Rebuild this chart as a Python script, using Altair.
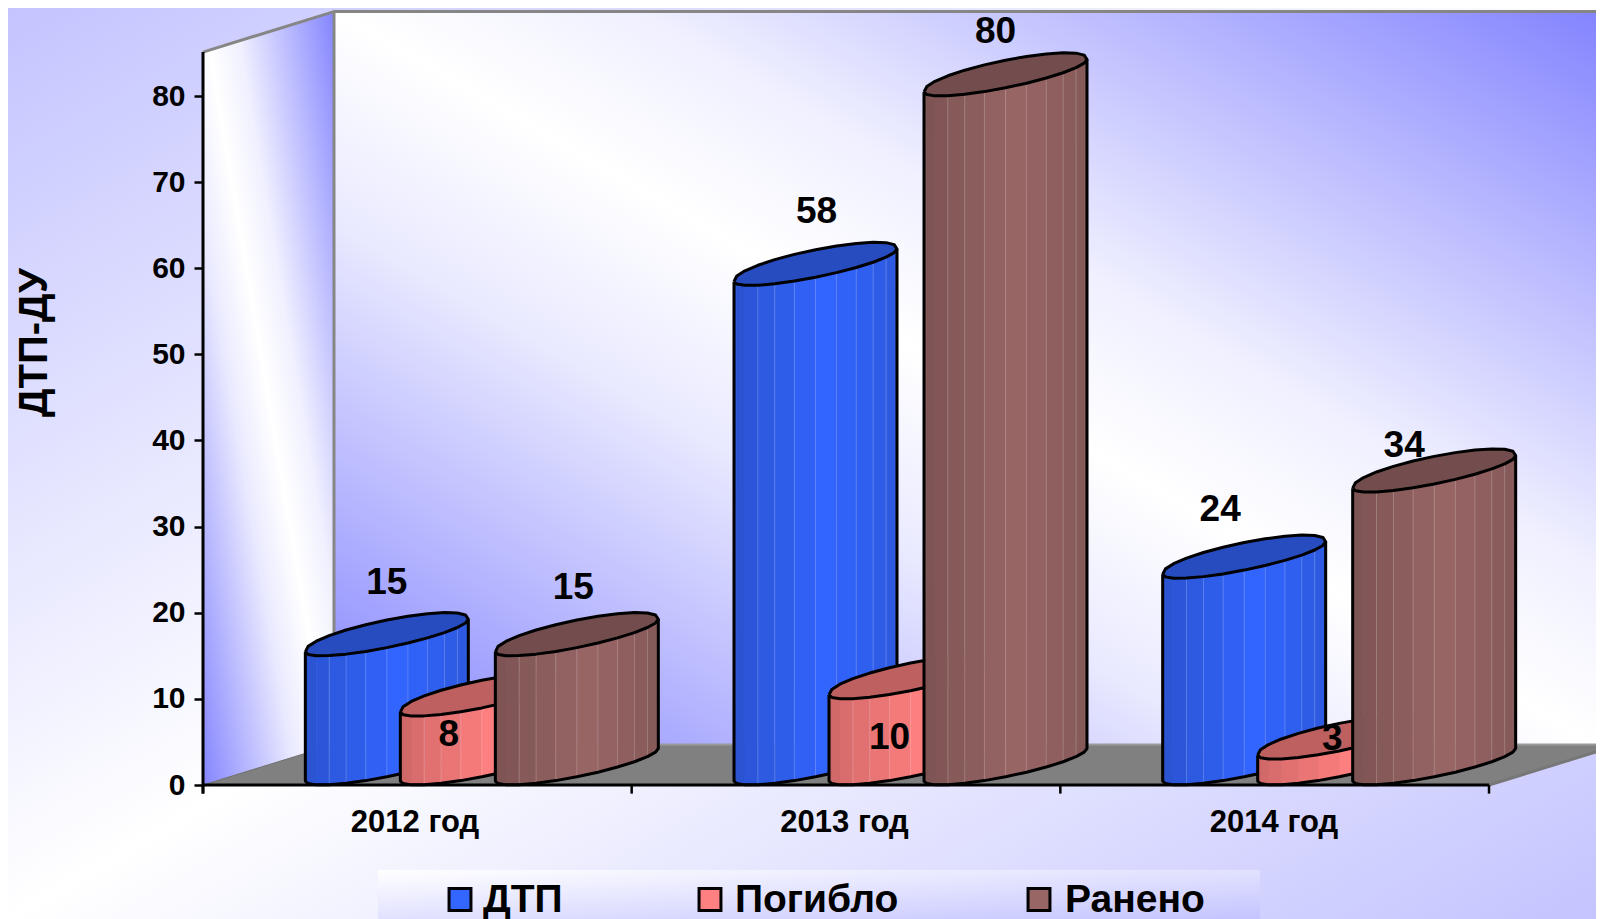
import math
import altair as alt
import pandas as pd

categories = ["2012 год", "2013 год", "2014 год"]
series_names = ["ДТП", "Погибло", "Ранено"]
dtp_values = [15, 58, 24]
killed_values = [8, 10, 3]
injured_values = [15, 80, 34]
y_ticks = [0, 10, 20, 30, 40, 50, 60, 70, 80]
series_colors = ["#3366FF", "#FF8080", "#996666"]
cap_colors = ["#264CBF", "#BF6060", "#734D4D"]

# ---- layout: pixel frame of the picture and the oblique projection ----
W, H = 1588, 911
PX_ORIGIN, PX_ZERO = 203.0, 785.0      # page position of category 0 / value 0
PX_PER_CAT, PX_PER_VAL = 428.67, 8.6125
DX, DV = 131 / PX_PER_CAT, 40.5 / PX_PER_VAL   # depth shift
AXIS_TOP = 85.1
GROUP_OFFSET = 95 / PX_PER_CAT
HALF_W = 48.5 / PX_PER_CAT
BAR_SHIFT = -1 / PX_PER_CAT
CAP_BULGE = 3.5 / PX_PER_VAL
STEPS = 12


def cx(page_x):
    return (page_x - PX_ORIGIN) / PX_PER_CAT


def vy(page_y):
    return (PX_ZERO - page_y) / PX_PER_VAL


x_scale = alt.Scale(domain=[cx(8), cx(8 + W)], nice=False, zero=False)
y_scale = alt.Scale(domain=[vy(8 + H), vy(8)], nice=False, zero=False)
y_axis = alt.Axis(
    values=y_ticks, offset=-195, orient="left", grid=False, domain=False,
    tickColor="#000000", tickWidth=2.5, tickSize=9, labelPadding=9,
    labelFont="Liberation Sans", labelFontWeight="bold", labelFontSize=30,
    labelColor="#000000", title="ДТП-ДУ", titleFont="Liberation Sans",
    titleFontWeight="bold", titleFontSize=40, titleColor="#000000",
    titleX=-169, titleY=334, titleAngle=270, titleAlign="center",
    titleBaseline="middle", zindex=1,
)
X = alt.X("x:Q", scale=x_scale, axis=None)
Y = alt.Y("y:Q", scale=y_scale, axis=y_axis, stack=None)
Y2 = alt.Y2("y2:Q")


def grad(stops, x1, y1, x2, y2):
    return alt.Gradient(
        gradient="linear",
        stops=[alt.GradientStop(color=c, offset=o) for o, c in stops],
        x1=x1, y1=y1, x2=x2, y2=y2,
    )


def band(rows, fill, **kw):
    return alt.Chart(pd.DataFrame(rows)).mark_area(
        fill=fill, orient="vertical", **kw
    ).encode(x=X, y=Y, y2=Y2)


def path(points, color, width, cap="butt"):
    df = pd.DataFrame([{"x": a, "y": b, "i": i} for i, (a, b) in enumerate(points)])
    return alt.Chart(df).mark_line(
        color=color, strokeWidth=width, strokeJoin="round", strokeCap=cap, clip=False
    ).encode(x=X, y=Y, order=alt.Order("i:Q"))


def shade(color, f):
    r, g, b = int(color[1:3], 16), int(color[3:5], 16), int(color[5:7], 16)
    return "#%02x%02x%02x" % (min(255, int(r * f)), min(255, int(g * f)), min(255, int(b * f)))


layers = []

# page background
layers.append(band(
    [{"x": cx(8), "y": vy(8), "y2": vy(8 + H)}, {"x": cx(8 + W), "y": vy(8), "y2": vy(8 + H)}],
    grad([(0, "#C4C4FF"), (0.5, "#FFFFFF"), (1, "#C4C4FF")], 0, 0, 1, 1),
))

wall_grad = grad(
    [(0, "#8484FF"), (0.36, "#EAEAFF"), (0.5, "#FFFFFF"), (0.62, "#F0F0FF"), (1, "#8484FF")],
    0, 1, 1, 0,
)
right_end = cx(8 + W)
# side wall
layers.append(band(
    [{"x": 0, "y": AXIS_TOP, "y2": 0}, {"x": DX, "y": AXIS_TOP + DV, "y2": DV}], wall_grad))
# back wall
layers.append(band(
    [{"x": DX, "y": AXIS_TOP + DV, "y2": DV}, {"x": right_end, "y": AXIS_TOP + DV, "y2": DV}], wall_grad))
# floor
slope = DV / DX
layers.append(band(
    [
        {"x": 0, "y": 0, "y2": 0},
        {"x": DX, "y": DV, "y2": 0},
        {"x": 3, "y": DV, "y2": 0},
        {"x": right_end, "y": DV, "y2": (right_end - 3) * slope},
    ],
    "#808080",
))
# wall edges
layers.append(path([(0, AXIS_TOP), (DX, AXIS_TOP + DV), (right_end, AXIS_TOP + DV)], "#868686", 3))
layers.append(path([(DX, AXIS_TOP + DV), (DX, DV)], "#868686", 3))
layers.append(path([(DX, DV), (right_end, DV)], "#9A9A9A", 2))
layers.append(path([(3, 0), (right_end, (right_end - 3) * slope)], "#777777", 3))
layers.append(path([(0, 0), (DX, DV)], "#6E6E6E", 1))

# ---- cylinders ----
R = math.hypot(HALF_W, DX / 2)
PHI = math.atan2(DX / 2, HALF_W)
series_values = [dtp_values, killed_values, injured_values]


def lower(center, s):
    """x, value offset on the near half of the base ellipse"""
    return center + R * math.cos(s), DV / 2 + DV / 2 * math.sin(PHI - s)


def upper(center, s):
    bulge = CAP_BULGE * max(0.0, math.sin(s)) ** 0.5
    return center + R * math.cos(s), DV / 2 + DV / 2 * math.sin(PHI + s) + bulge


for g in range(len(categories)):
    for k in range(len(series_names)):
        v = series_values[k][g]
        center = g + 0.5 + DX / 2 + (k - 1) * GROUP_OFFSET + BAR_SHIFT
        base = series_colors[k]
        s_list = [math.pi * (STEPS - i) / STEPS for i in range(STEPS + 1)]  # left to right

        rows = []
        for i in range(STEPS):
            x0, y0 = lower(center, s_list[i])
            x1, y1 = lower(center, s_list[i + 1])
            mid = ((x0 + x1) / 2 - (center - R)) / (2 * R)
            f = 0.80 + 0.20 * max(0.0, 1 - abs(mid - 0.58) / 0.58) ** 0.8
            fill = shade(base, f)
            rows.append({"x": x0, "y": y0 + v, "y2": y0, "id": i, "fill": fill})
            rows.append({"x": x1, "y": y1 + v, "y2": y1, "id": i, "fill": fill})
        layers.append(
            alt.Chart(pd.DataFrame(rows)).mark_area(orient="vertical", strokeWidth=0.7).encode(
                x=X, y=Y, y2=Y2, detail="id:N",
                color=alt.Color("fill:N", scale=None),
                stroke=alt.Stroke("fill:N", scale=None),
            )
        )

        # faint facet edges
        edge_rows = []
        for i in range(3, STEPS - 1):
            x0, y0 = lower(center, s_list[i])
            edge_rows.append({"x": x0, "y": y0 + v, "y2": y0})
        if v > 5:
            layers.append(
                alt.Chart(pd.DataFrame(edge_rows)).mark_rule(
                    color="#FFFFFF", opacity=0.2, strokeWidth=1
                ).encode(x=X, y=Y, y2=Y2)
            )

        # top cap
        cap_rows = []
        for s in s_list:
            xu, yu = upper(center, s)
            _, yl = lower(center, s)
            cap_rows.append({"x": xu, "y": yu + v, "y2": yl + v})
        layers.append(band(cap_rows, cap_colors[k]))

        # outlines
        near = [lower(center, s) for s in s_list]
        far = [upper(center, s) for s in s_list]
        layers.append(path(
            [(near[0][0], near[0][1] + v)] + near + [(near[-1][0], near[-1][1] + v)],
            "#000000", 3,
        ))
        layers.append(path(
            [(a, b + v) for a, b in near] + [(a, b + v) for a, b in reversed(far)],
            "#000000", 3,
        ))

# ---- axes ----
layers.append(path([(0, -1.0), (0, AXIS_TOP)], "#000000", 3))
layers.append(path([(0, 0), (3, 0)], "#000000", 3))
tick_df = pd.DataFrame({"x": list(range(len(categories) + 1))})
layers.append(
    alt.Chart(tick_df).mark_rule(color="#000000", strokeWidth=2.5).transform_calculate(
        y="0", y2="-1"
    ).encode(x=X, y=Y, y2=Y2)
)
layers.append(
    alt.Chart(pd.DataFrame({"x": [cx(415 + 429.5 * i) for i in range(3)], "y": [vy(823)] * 3, "t": categories}))
    .mark_text(font="Liberation Sans", fontWeight="bold", fontSize=31, color="#000000")
    .encode(x=X, y=Y, text="t:N")
)

# ---- value labels ----
label_dx_px = [[0, -33, -3.5], [1, -21, -10], [-24, -7, -30]]
label_dv = [[8.45, -2.2, 7.9], [8.5, -4.5, 7.4], [7.9, 2.3, 5.4]]
label_rows = []
for g in range(3):
    for k in range(3):
        v = series_values[k][g]
        label_rows.append({
            "x": g + 0.5 + DX / 2 + (k - 1) * GROUP_OFFSET + BAR_SHIFT + label_dx_px[g][k] / PX_PER_CAT,
            "y": v + label_dv[g][k],
            "t": str(v),
        })
layers.append(
    alt.Chart(pd.DataFrame(label_rows))
    .mark_text(font="Liberation Sans", fontWeight="bold", fontSize=37, color="#000000")
    .encode(x=X, y=Y, text="t:N")
)

# ---- legend ----
layers.append(band(
    [{"x": cx(378), "y": vy(870), "y2": vy(919)}, {"x": cx(1260), "y": vy(870), "y2": vy(919)}],
    grad([(0, "#FFFFFF"), (1, "#C4C4FF")], 0, 0, 1, 1),
))
legend_symbol_px = [460, 710, 1039]
legend_text_px = [483, 735, 1065]
layers.append(
    alt.Chart(pd.DataFrame({
        "x": [cx(p) for p in legend_symbol_px], "y": [vy(899.5)] * 3,
        "c": series_colors, "n": series_names,
    }))
    .mark_square(size=480, opacity=1, stroke="#000000", strokeWidth=3)
    .encode(x=X, y=Y, color=alt.Color("c:N", scale=None), stroke=alt.value("#000000"))
)
layers.append(
    alt.Chart(pd.DataFrame({
        "x": [cx(p) for p in legend_text_px], "y": [vy(899.5)] * 3, "t": series_names,
    }))
    .mark_text(font="Liberation Sans", fontWeight="bold", fontSize=39, color="#000000", align="left")
    .encode(x=X, y=Y, text="t:N")
)

chart = alt.layer(*layers).properties(
    width=W, height=H, padding=0, autosize=alt.AutoSizeParams(type="none")
).configure_view(stroke=None)

chart.save("out.html", embed_options={"renderer": "svg", "actions": False})
